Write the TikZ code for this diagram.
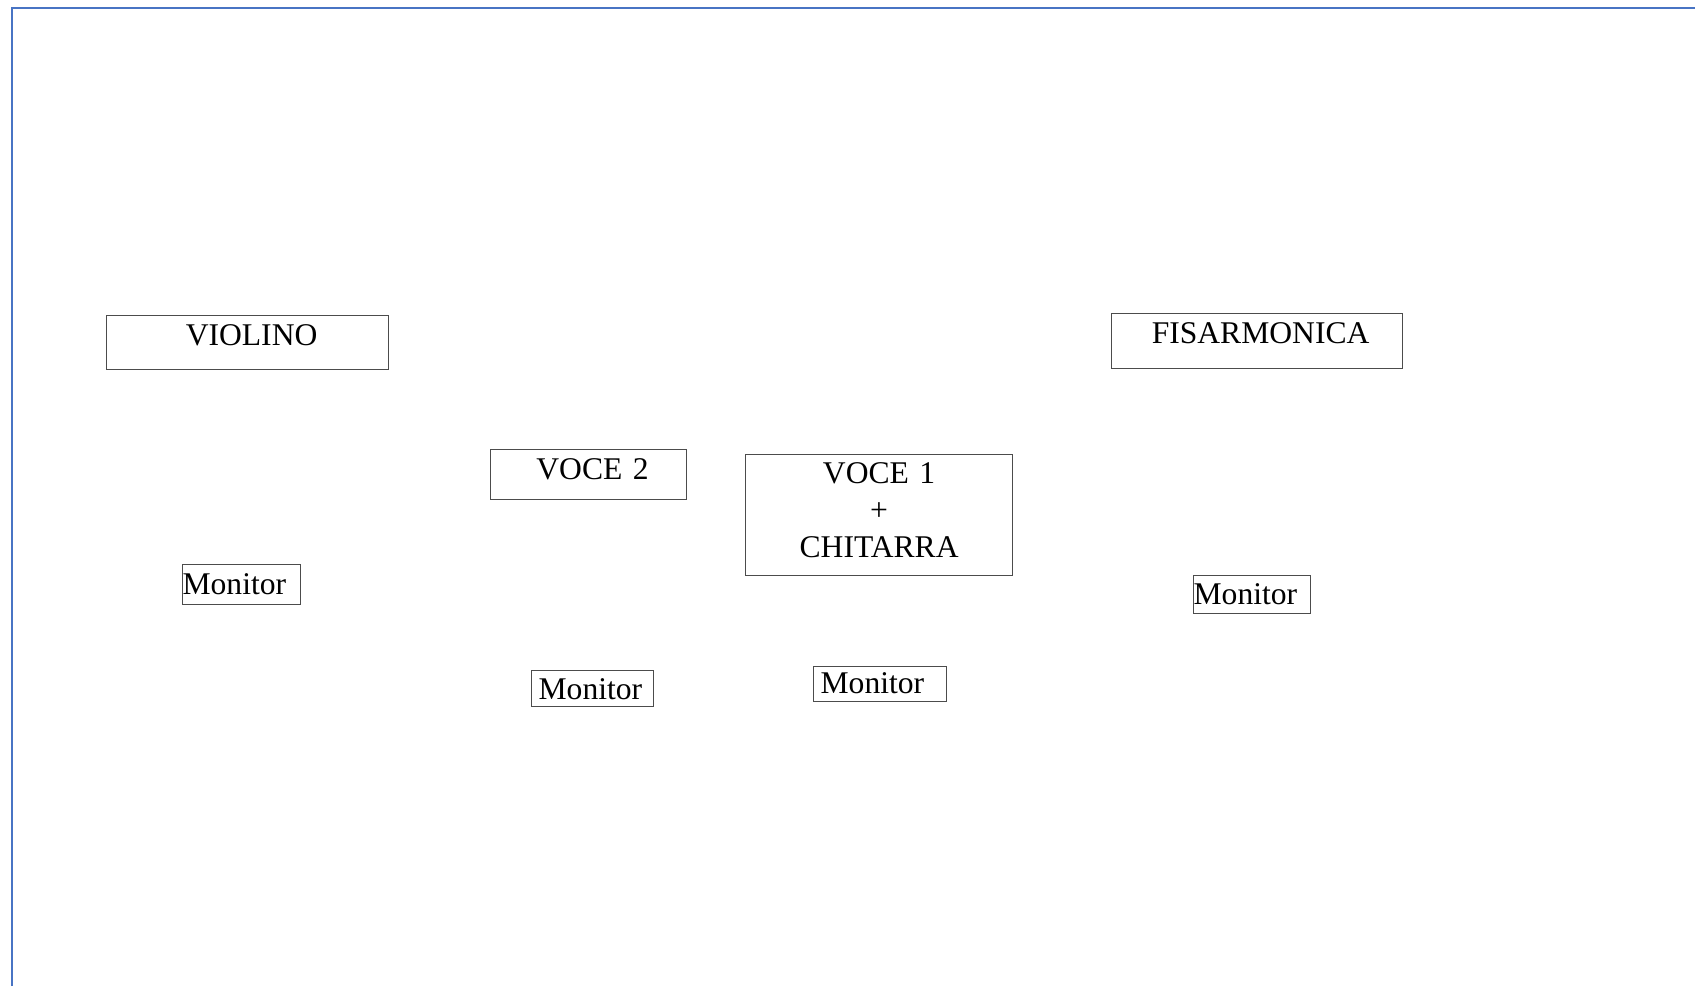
\documentclass[tikz,border=0pt]{standalone}
\usepackage{fontspec}
\setmainfont{Liberation Serif}
\definecolor{frameblue}{RGB}{72,116,196}
\begin{document}
\begin{tikzpicture}[x=0.5pt,y=-0.5pt,
  box/.style={draw=black!70, line width=0.6pt, inner sep=0pt, anchor=north west,
    font=\fontsize{15.8pt}{18.4pt}\selectfont},
  frameline/.style={draw=frameblue, line width=1pt}]
\useasboundingbox (0,0) rectangle (1695,986);
% page frame
\coordinate (tl) at (11.5,8);
\coordinate (bl) at (11.5,986);
\coordinate (tr) at (1695,8);
\draw[frameline] (bl) -- (tl) -- (tr);
% instruments
\node[box, text width=141pt, text height=15pt, text depth=12pt, align=center] (violino) at (106,315) {\hspace*{4pt}VIOLINO};
\node[box, text width=145.5pt, text height=15pt, text depth=12.5pt, align=center] (fisa) at (1111,313) {\hspace*{3.5pt}FISARMONICA};
\node[box, text width=98pt, text height=15pt, text depth=10pt, align=center] (voce2) at (490,449) {\hspace*{4pt}VOCE 2};
\node[box, text width=133.5pt, text height=14.5pt, text depth=46pt, align=center] (voce1) at (745,454) {VOCE 1\\+\\CHITARRA};
% monitors
\node[box, text width=59pt, text height=15pt, text depth=5pt, align=left] (mon1) at (182,564) {Monitor};
\node[box, text width=61pt, text height=14.5pt, text depth=3.5pt, align=left] (mon2) at (531,670) {\hspace*{3.5pt}Monitor};
\node[box, text width=66.5pt, text height=13.5pt, text depth=4pt, align=left] (mon3) at (813,666) {\hspace*{3.5pt}Monitor};
\node[box, text width=58.5pt, text height=14.5pt, text depth=4.5pt, align=left] (mon4) at (1193,575) {Monitor};
\end{tikzpicture}
\end{document}
